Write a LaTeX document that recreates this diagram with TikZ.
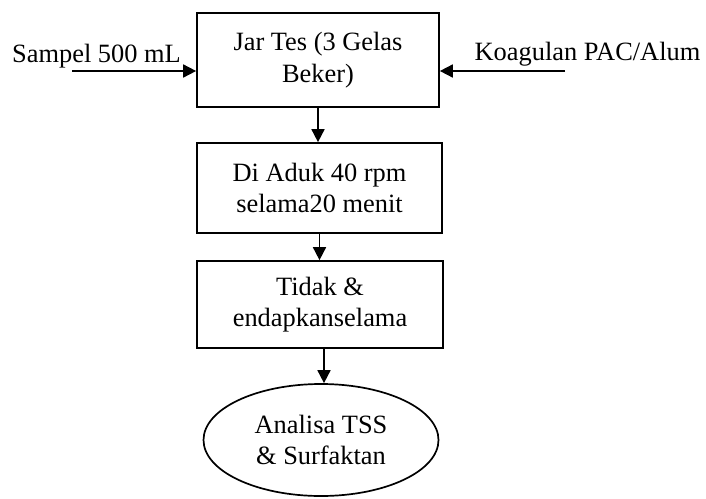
\documentclass[tikz,border=0pt]{standalone}
\usepackage{fontspec}
\setmainfont{Liberation Serif}
\usetikzlibrary{arrows.meta,shapes.geometric}

\tikzset{
  kotak/.style={draw, line width=0.85pt, rectangle, align=center, inner sep=0pt},
  bulat/.style={draw, line width=0.85pt, ellipse, align=center, inner sep=0pt},
  panah/.style={line width=0.85pt, -{Triangle[length=6.5pt,width=6.5pt]}},
  teks/.style={anchor=base, inner sep=0pt}
}

\begin{document}
\begin{tikzpicture}[x=0.5pt, y=-0.5pt, font=\fontsize{13.2pt}{15.8pt}\selectfont]
  \useasboundingbox (0,0) rectangle (706,498);

  % 流れの箱
  \node[kotak, minimum width=121pt, minimum height=47pt] (jar) at (318,60) {Jar Tes (3 Gelas\\Beker)};
  \node[kotak, minimum width=122.5pt, minimum height=45pt] (aduk) at (319.5,188) {Di Aduk 40 rpm\\selama20 menit};
  \node[kotak, minimum width=123pt, minimum height=43.5pt] (endap) at (320,304.5) {Tidak \&\\endapkanselama};
  \node[bulat, minimum width=117.5pt, minimum height=56pt] (analisa) at (321,440) {Analisa TSS\\\& Surfaktan};

  % 入力
  \coordinate (sampel0) at (72,71);
  \coordinate (koag0) at (565,71);
  \node[teks] (sampel) at (96.5,62) {Sampel 500 mL};
  \node[teks] (koag) at (587.5,60) {Koagulan PAC/Alum};

  % 矢印
  \draw[panah] (sampel0) -- (sampel0 -| jar.west);
  \draw[panah] (koag0) -- (koag0 -| jar.east);
  \draw[panah] (jar.south) -- (jar.south |- aduk.north);
  \draw[panah] (aduk.south) -- (aduk.south |- endap.north);
  \draw[panah] ([xshift=2pt]endap.south) -- ([xshift=2pt]endap.south |- analisa.north);
\end{tikzpicture}
\end{document}
